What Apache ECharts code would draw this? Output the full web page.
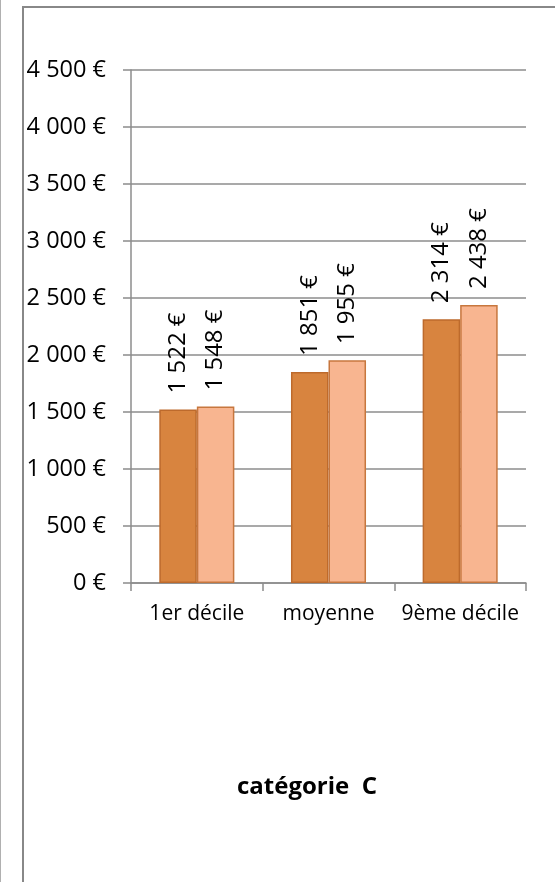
<!DOCTYPE html>
<html>
<head>
<meta charset="utf-8">
<script src="https://cdn.jsdelivr.net/npm/echarts@6/dist/echarts.min.js"></script>
<style>html,body{margin:0;padding:0;background:#fff}#c{width:555px;height:882px}</style>
</head>
<body>
<div id="c"></div>
<script>
const categories = ['1er décile', 'moyenne', '9ème décile'];
const seriesA = [1522, 1851, 2314];
const seriesB = [1548, 1955, 2438];
const yTicks = [0, 500, 1000, 1500, 2000, 2500, 3000, 3500, 4000, 4500];
const title = 'catégorie  C';

const FONT = 'Open Sans';
function euro(v) {
  return String(Math.round(v)).replace(/\B(?=(\d{3})+(?!\d))/g, ' ') + ' €';
}
const chart = echarts.init(document.getElementById('c'), null, {renderer: 'canvas'});
const labelCfg = {
  show: true, position: 'top', rotate: 90, align: 'left', verticalAlign: 'middle',
  distance: 16, fontFamily: FONT, fontSize: 24, color: '#000',
  formatter: p => euro(p.value)
};
chart.setOption({
  animation: false,
  backgroundColor: '#fff',
  title: {
    text: title, left: 302, top: 770, textAlign: 'center',
    textStyle: {fontFamily: FONT, fontSize: 24, fontWeight: 'bold', color: '#000'}
  },
  graphic: [
    {type: 'line', shape: {x1: 0.5, y1: 0, x2: 0.5, y2: 882}, style: {stroke: '#b0b0b0', lineWidth: 1}},
    {type: 'line', shape: {x1: 23, y1: 7, x2: 23, y2: 882}, style: {stroke: '#888', lineWidth: 2}},
    {type: 'line', shape: {x1: 22, y1: 7, x2: 555, y2: 7}, style: {stroke: '#888', lineWidth: 2}}
  ],
  grid: {left: 131, right: 29, top: 70, bottom: 299, containLabel: false},
  xAxis: {
    type: 'category', data: categories,
    axisLine: {show: true, lineStyle: {color: '#8c8c8c', width: 1.5}},
    axisTick: {show: true, length: 8, alignWithLabel: false, lineStyle: {color: '#8c8c8c', width: 1.5}},
    axisLabel: {fontFamily: FONT, fontSize: 21, color: '#000', margin: 21, interval: 0},
    splitLine: {show: false}
  },
  yAxis: {
    type: 'value', min: yTicks[0], max: yTicks[yTicks.length - 1], interval: 500,
    axisLine: {show: true, lineStyle: {color: '#8c8c8c', width: 1.5}},
    axisTick: {show: true, length: 8, lineStyle: {color: '#8c8c8c', width: 1.5}},
    axisLabel: {fontFamily: FONT, fontSize: 23.5, color: '#000', margin: 25, formatter: v => euro(v)},
    splitLine: {show: true, lineStyle: {color: '#8c8c8c', width: 1.5}}
  },
  series: [
    {
      type: 'bar', data: seriesA, barGap: '0%', barCategoryGap: '43%',
      itemStyle: {color: '#D8843F', borderColor: '#BD6A2C', borderWidth: 1.5},
      label: labelCfg
    },
    {
      type: 'bar', data: seriesB, barGap: '0%', barCategoryGap: '43%',
      itemStyle: {color: '#F8B590', borderColor: '#C7773E', borderWidth: 1.5},
      label: labelCfg
    }
  ]
});
</script>
</body>
</html>
